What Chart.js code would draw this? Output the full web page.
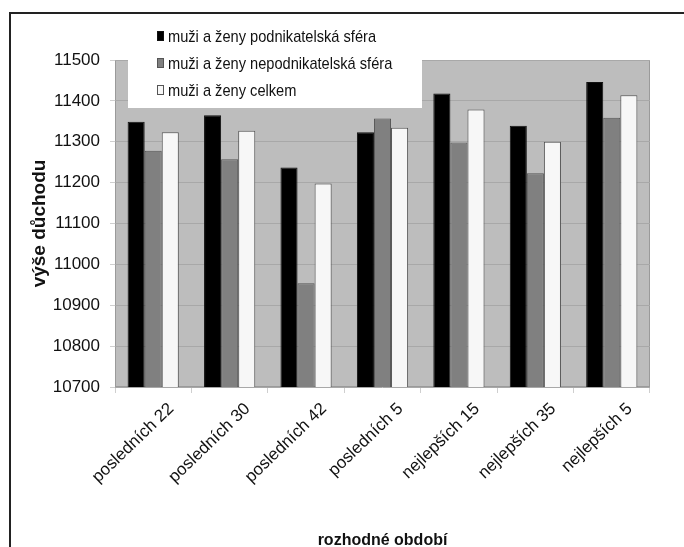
<!DOCTYPE html>
<html lang="cs">
<head>
<meta charset="utf-8">
<script src="https://cdn.jsdelivr.net/npm/chart.js@4/dist/chart.umd.min.js"></script>
<style>
  html, body { margin: 0; padding: 0; background: #fff; overflow: hidden; }
  #frame {
    position: absolute; left: 9px; top: 12px;
    width: 700px; height: 560px;
    border-left: 2px solid #222; border-top: 2px solid #222;
  }
  #chart { display: block; }
</style>
</head>
<body>
<div id="frame"><canvas id="chart" width="673" height="545"></canvas></div>
<script>
// rozhodné období (kategorie na ose X)
const categories = [
  "posledních 22", "posledních 30", "posledních 42", "posledních 5",
  "nejlepších 15", "nejlepších 35", "nejlepších 5",
];
const seriesNames = [
  "muži a ženy podnikatelská sféra",
  "muži a ženy nepodnikatelská sféra",
  "muži a ženy celkem",
];
// výše důchodu
const podnikatelska = [11349, 11365, 11237, 11323, 11418, 11339, 11446];
const nepodnikatelska = [11278, 11257, 10954, 11357, 11298, 11223, 11359];
const celkem = [11323, 11327, 11198, 11334, 11379, 11300, 11414];
const yTicks = [10700, 10800, 10900, 11000, 11100, 11200, 11300, 11400, 11500];

const FONT = "'Liberation Sans', Arial, sans-serif";

// šedé pozadí plochy grafu
const plotBackground = {
  id: "plotBackground",
  beforeDraw(chart) {
    const { ctx, chartArea: a } = chart;
    ctx.save();
    ctx.fillStyle = "#bdbdbd";
    ctx.fillRect(a.left, a.top, a.right - a.left, a.bottom - a.top);
    ctx.strokeStyle = "#9a9a9a";
    ctx.lineWidth = 1;
    ctx.strokeRect(a.left + 0.5, a.top + 0.5, a.right - a.left - 1, a.bottom - a.top - 1);
    ctx.restore();
  },
};

// legenda v bílém rámečku přes horní část grafu (užší písmo jako v originálu)
const boxLegend = {
  id: "boxLegend",
  afterDatasetsDraw(chart) {
    const { ctx } = chart;
    ctx.save();
    ctx.fillStyle = "#fff";
    ctx.fillRect(117, 0, 294, 94);
    const rows = [22, 49, 76];
    chart.data.datasets.forEach((ds, i) => {
      const y = rows[i];
      ctx.fillStyle = ds.backgroundColor;
      ctx.fillRect(146, y - 5, 7, 10);
      ctx.strokeStyle = ds.borderColor;
      ctx.lineWidth = 1;
      ctx.strokeRect(146.5, y - 4.5, 6, 9);
      ctx.save();
      ctx.translate(157, y + 1);
      ctx.scale(0.86, 1);
      ctx.font = `17px ${FONT}`;
      ctx.textBaseline = "middle";
      ctx.fillStyle = "#111";
      ctx.fillText(ds.label, 0, 0);
      ctx.restore();
    });
    ctx.restore();
  },
};

new Chart(document.getElementById("chart"), {
  type: "bar",
  data: {
    labels: categories,
    datasets: [
      { label: seriesNames[0], data: podnikatelska, backgroundColor: "#000000", borderColor: "#111111" },
      { label: seriesNames[1], data: nepodnikatelska, backgroundColor: "#808080", borderColor: "#555555" },
      { label: seriesNames[2], data: celkem, backgroundColor: "#f7f7f7", borderColor: "#555555" },
    ],
  },
  options: {
    responsive: false,
    animation: false,
    devicePixelRatio: 1,
    layout: { padding: { top: 46, right: 34, left: 0, bottom: 0 } },
    datasets: {
      bar: { categoryPercentage: 0.67, barPercentage: 1.0, borderWidth: 1 },
    },
    plugins: {
      legend: { display: false },
      tooltip: { enabled: false },
    },
    scales: {
      x: {
        afterFit: (scale) => { scale.height = 172; },
        grid: {
          offset: true,
          drawOnChartArea: false,
          drawTicks: true,
          tickLength: 6,
          color: "#cfcfcf",
        },
        border: { display: false },
        ticks: {
          minRotation: 44,
          maxRotation: 44,
          padding: 6,
          labelOffset: 18,
          color: "#111",
          font: { family: FONT, size: 17 },
        },
        title: {
          display: true,
          text: "rozhodné období",
          color: "#111",
          padding: { top: 0, bottom: 9 },
          font: { family: FONT, size: 16, weight: "bold" },
        },
      },
      y: {
        min: yTicks[0],
        max: yTicks[yTicks.length - 1],
        afterFit: (scale) => { scale.width = 104; },
        afterBuildTicks: (scale) => { scale.ticks = yTicks.map((v) => ({ value: v })); },
        grid: { color: "#a8a8a8", tickLength: 5, tickColor: "#cfcfcf" },
        border: { display: false },
        ticks: {
          padding: 10,
          color: "#111",
          font: { family: FONT, size: 17 },
          callback: (value) => String(value),
        },
        title: {
          display: true,
          text: "výše důchodu",
          color: "#111",
          padding: { top: 17, bottom: 0 },
          font: { family: FONT, size: 19, weight: "bold" },
        },
      },
    },
  },
  plugins: [plotBackground, boxLegend],
});
</script>
</body>
</html>
